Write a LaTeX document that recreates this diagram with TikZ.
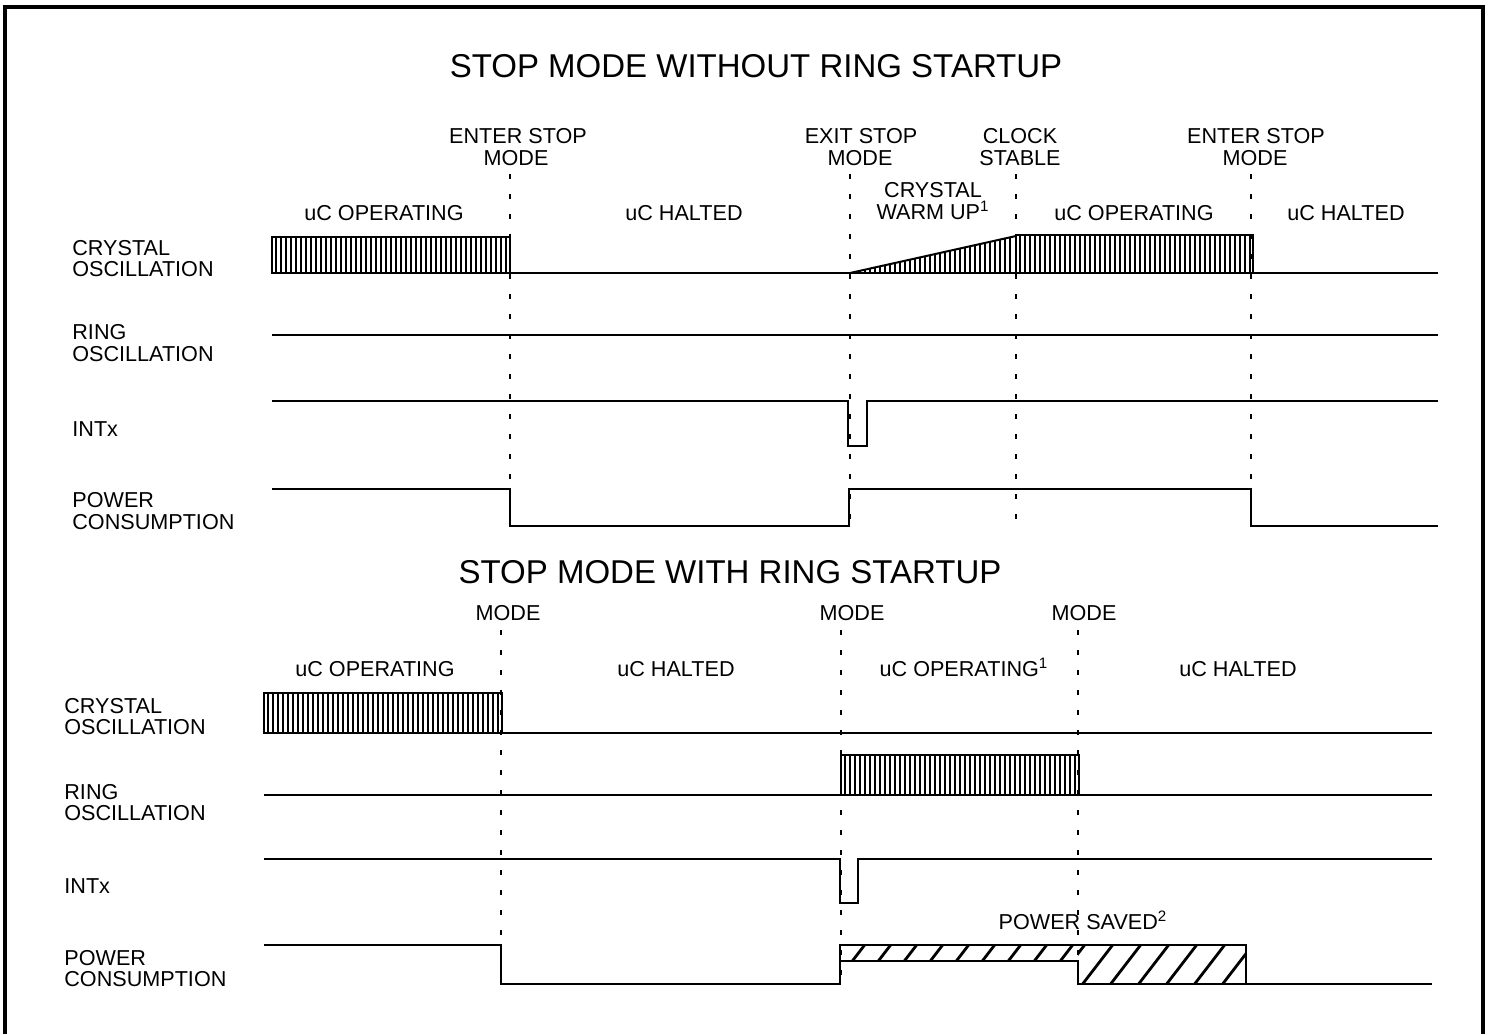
\documentclass[tikz,border=0pt]{standalone}
\usepackage{fontspec}
\setmainfont{Liberation Sans}
\begin{document}
\begin{tikzpicture}[x=0.5pt,y=-0.5pt,
  sig/.style={line width=1pt, line join=miter},
  vmark/.style={line width=0.8pt, dash pattern=on 2.5pt off 7.5pt},
  lbl/.style={font=\fontsize{10.8}{12}\selectfont, inner sep=0pt, anchor=base, text height=7.8pt, text depth=0pt},
  sl/.style={lbl, anchor=base west},
  ttl/.style={font=\fontsize{16.5}{18}\selectfont, inner sep=0pt, anchor=base},
  osc/.style={line width=1.15pt},
  hatch/.style={line width=1.4pt},
  frameline/.style={line width=1.6pt}]
\useasboundingbox (0,0) rectangle (1488,1034);
\draw[frameline] (5,1034) -- (5,7) -- (1483,7) -- (1483,1034);

% ================= TOP DIAGRAM =================
\node[ttl] (t1) at (756,77) {STOP MODE WITHOUT RING STARTUP};

\node[lbl] (h1a) at (518,143) {ENTER STOP};
\node[lbl] (h1b) at (516,165) {MODE};
\node[lbl] (h2a) at (861,143) {EXIT STOP};
\node[lbl] (h2b) at (860,165) {MODE};
\node[lbl] (h3a) at (1020,143) {CLOCK};
\node[lbl] (h3b) at (1020,165) {STABLE};
\node[lbl] (h4a) at (1256,143) {ENTER STOP};
\node[lbl] (h4b) at (1255,165) {MODE};

\node[lbl] (r1) at (384,220) {uC OPERATING};
\node[lbl] (r2) at (684,220) {uC HALTED};
\node[lbl] (r3a) at (933,197) {CRYSTAL};
\node[lbl] (r3b) at (933,219) {WARM UP\textsuperscript{1}};
\node[lbl] (r4) at (1134,220) {uC OPERATING};
\node[lbl] (r5) at (1346,220) {uC HALTED};

\node[sl] (s1a) at (72,255) {CRYSTAL};
\node[sl] (s1b) at (72,276) {OSCILLATION};
\node[sl] (s2a) at (72,339) {RING};
\node[sl] (s2b) at (72,361) {OSCILLATION};
\node[sl] (s3) at (72,436) {INTx};
\node[sl] (s4a) at (72,507) {POWER};
\node[sl] (s4b) at (72,529) {CONSUMPTION};

% dashed markers
\foreach \x in {510,850,1016,1251} \draw[vmark] (\x,174) -- (\x,528);

% crystal oscillation
\draw[sig] (272,273) -- (1438,273);
\draw[sig] (272,237) rectangle (510,273);
\foreach \x in {276,281,...,507} \draw[osc] (\x,237) -- (\x,273);
\draw[sig] (850,273) -- (1016,236);
\foreach \x in {855,860,...,1013} \draw[osc] (\x,273) -- (\x,{273-37*(\x-850)/166});
\draw[sig] (1016,235) rectangle (1253,273);
\foreach \x in {1020,1025,...,1250} \draw[osc] (\x,235) -- (\x,273);

% ring oscillation
\draw[sig] (272,335) -- (1438,335);

% INTx
\draw[sig] (272,401) -- (848,401) -- (848,446) -- (867,446) -- (867,401) -- (1438,401);

% power
\draw[sig] (272,489) -- (510,489) -- (510,526) -- (849,526) -- (849,489) -- (1251,489) -- (1251,526) -- (1438,526);

% ================= BOTTOM DIAGRAM =================
\node[ttl] (t2) at (730,583) {STOP MODE WITH RING STARTUP};

\node[lbl] (m1) at (508,620) {MODE};
\node[lbl] (m2) at (852,620) {MODE};
\node[lbl] (m3) at (1084,620) {MODE};

\node[lbl] (q1) at (375,676) {uC OPERATING};
\node[lbl] (q2) at (676,676) {uC HALTED};
\node[lbl] (q3) at (964,676) {uC OPERATING\textsuperscript{1}};
\node[lbl] (q4) at (1238,676) {uC HALTED};

\node[sl] (b1a) at (64,713) {CRYSTAL};
\node[sl] (b1b) at (64,734) {OSCILLATION};
\node[sl] (b2a) at (64,799) {RING};
\node[sl] (b2b) at (64,820) {OSCILLATION};
\node[sl] (b3) at (64,893) {INTx};
\node[sl] (b4a) at (64,965) {POWER};
\node[sl] (b4b) at (64,986) {CONSUMPTION};
\node[lbl] (ps) at (1083,929) {POWER SAVED\textsuperscript{2}};

\foreach \x in {501,841,1078} \draw[vmark] (\x,630) -- (\x,987);

% crystal oscillation
\draw[sig] (264,733) -- (1432,733);
\draw[sig] (264,693) rectangle (502,733);
\foreach \x in {268,273,...,499} \draw[osc] (\x,693) -- (\x,733);

% ring oscillation
\draw[sig] (264,795) -- (1432,795);
\draw[sig] (841,755) rectangle (1079,795);
\foreach \x in {845,850,...,1076} \draw[osc] (\x,755) -- (\x,795);

% INTx
\draw[sig] (264,859) -- (840,859) -- (840,903) -- (858,903) -- (858,859) -- (1432,859);

% power
\begin{scope}
  \clip (840,945) rectangle (1078,961);
  \foreach \s in {830,856,...,1100} \draw[hatch] (\s,990) -- (\s+40,938);
\end{scope}
\begin{scope}
  \clip (1078,945) rectangle (1246,984);
  \foreach \s in {1050,1078,...,1280} \draw[hatch] (\s,990) -- (\s+40,938);
\end{scope}
\draw[sig] (264,945) -- (501,945) -- (501,984) -- (840,984) -- (840,945) -- (1246,945) -- (1246,984) -- (1432,984);
\draw[sig] (840,961) -- (1078,961) -- (1078,984) -- (1246,984);
\end{tikzpicture}
\end{document}
